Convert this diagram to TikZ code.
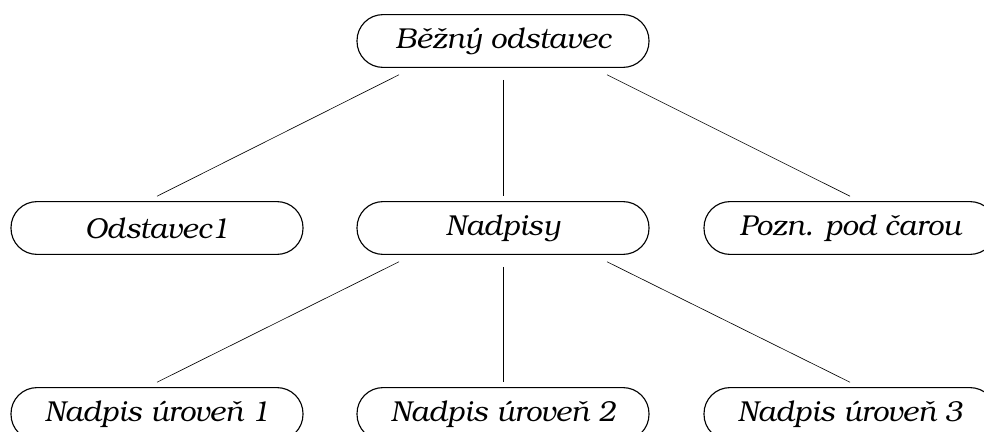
\documentclass[tikz,border=0pt]{standalone}
\usepackage{fontspec}
\setmainfont{TeX Gyre Bonum}
\usetikzlibrary{calc}

\begin{document}
\begin{tikzpicture}[
    para/.style={rectangle, draw, line width=0.8pt, rounded corners=0.65cm,
                 minimum width=7.3cm, minimum height=1.32cm,
                 font=\fontsize{20.5}{24}\selectfont\itshape},
    link/.style={line width=0.45pt}
  ]
            \useasboundingbox (0,0) rectangle (24.6,10.8);
            \node[para] (bezny) at (12.575,9.775) {Běžný odstavec};
            \node[para] (odst) at (3.925,5.1) {Odstavec1};
            \node[para] (nadp) at (12.575,5.1) {Nadpisy};
            \node[para] (pozn) at (21.25,5.1) {Pozn. pod čarou};
            \node[para] (nad1) at (3.925,0.45) {Nadpis úroveň 1};
            \node[para] (nad2) at (12.575,0.45) {Nadpis úroveň 2};
            \node[para] (nad3) at (21.25,0.45) {Nadpis úroveň 3};

            \draw[link] ($(bezny.south)+(-2.6,-0.17)$) -- ($(odst.north)+(0,0.12)$);
            \draw[link] ($(bezny.south)+(0,-0.3)$) -- ($(nadp.north)+(0,0.12)$);
            \draw[link] ($(bezny.south)+(2.6,-0.17)$) -- ($(pozn.north)+(0,0.12)$);

            \draw[link] ($(nadp.south)+(-2.6,-0.17)$) -- ($(nad1.north)+(0,0.12)$);
            \draw[link] ($(nadp.south)+(0,-0.3)$) -- ($(nad2.north)+(0,0.12)$);
            \draw[link] ($(nadp.south)+(2.6,-0.17)$) -- ($(nad3.north)+(0,0.12)$);
        \end{tikzpicture}
\end{document}
